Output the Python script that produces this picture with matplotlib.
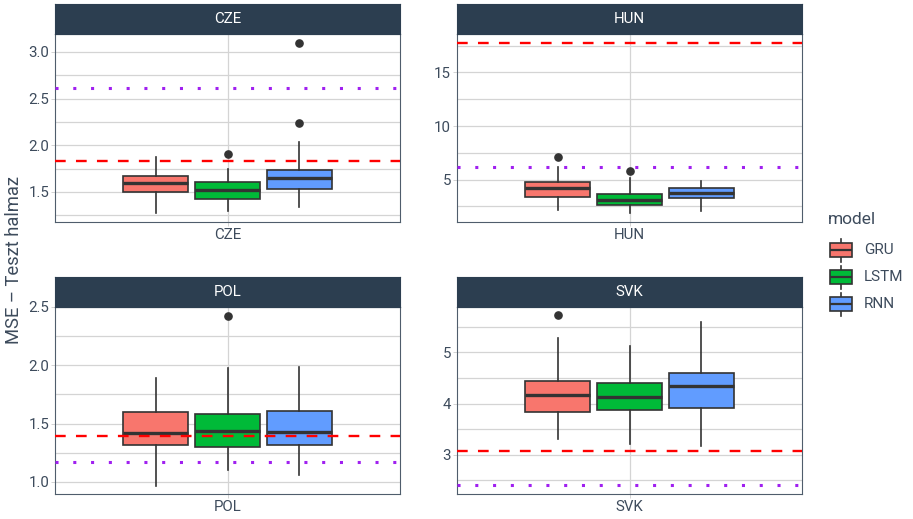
import matplotlib
matplotlib.use("Agg")
import matplotlib.pyplot as plt
from matplotlib.patches import Rectangle

plt.rcParams['font.family'] = ['Roboto', 'DejaVu Sans']
plt.rcParams['lines.scale_dashes'] = False

# ---- data -------------------------------------------------------------
countries = ["CZE", "HUN", "POL", "SVK"]
models = ["GRU", "LSTM", "RNN"]
model_colors = ["#F8766D", "#00BA38", "#619CFF"]

# box statistics per country, one entry per model: (whislo, q1, med, q3, whishi)
cze_stats = [(1.27, 1.50, 1.60, 1.675, 1.875),
             (1.30, 1.43, 1.52, 1.607, 1.75),
             (1.34, 1.53, 1.65, 1.74, 2.04)]
cze_fliers = [[], [1.91], [2.24, 3.10]]

hun_stats = [(2.17, 3.35, 4.22, 4.81, 6.20),
             (1.85, 2.64, 3.13, 3.66, 5.12),
             (2.10, 3.32, 3.76, 4.22, 4.84)]
hun_fliers = [[7.09], [5.81], []]

pol_stats = [(0.969, 1.313, 1.418, 1.603, 1.894),
             (1.103, 1.302, 1.436, 1.581, 1.979),
             (1.06, 1.313, 1.43, 1.609, 1.988)]
pol_fliers = [[], [2.426], []]

svk_stats = [(3.31, 3.83, 4.16, 4.45, 5.28),
             (3.21, 3.87, 4.13, 4.41, 5.12),
             (3.17, 3.92, 4.35, 4.60, 5.60)]
svk_fliers = [[5.72], [], []]

# reference levels: red dashed and purple dotted
red_level = [1.83, 17.78, 1.39, 3.07]
purple_level = [2.61, 6.15, 1.168, 2.40]

# y axis breaks
major_ticks = [[1.5, 2.0, 2.5, 3.0], [5, 10, 15], [1.0, 1.5, 2.0, 2.5], [3, 4, 5]]
major_labels = [["1.5", "2.0", "2.5", "3.0"], ["5", "10", "15"],
                ["1.0", "1.5", "2.0", "2.5"], ["3", "4", "5"]]
minor_ticks = [[1.25, 1.75, 2.25, 2.75], [2.5, 7.5, 12.5, 17.5],
               [1.25, 1.75, 2.25], [2.5, 3.5, 4.5, 5.5]]

all_stats = [cze_stats, hun_stats, pol_stats, svk_stats]
all_fliers = [cze_fliers, hun_fliers, pol_fliers, svk_fliers]

# ---- layout -----------------------------------------------------------
W, H = 913, 519
fig = plt.figure(figsize=(W / 100, H / 100), dpi=100)
fig.patch.set_facecolor("white")

BLUE = "#2c3e50"
GRID = "#d4d4d4"
TXT = "#3d4b5c"
EDGE = "#333333"

# panel rectangles in pixels: (left, top, right, bottom), strip height
panels = [(55, 34, 400, 222), (457, 34, 802, 222),
          (55, 307, 400, 494), (457, 307, 802, 494)]
strip_h = 30


def px_axes(l, t, r, b):
    return fig.add_axes([l / W, 1 - b / H, (r - l) / W, (b - t) / H])


positions = [0.75, 1.0, 1.25]

for i, c in enumerate(countries):
    l, t, r, b = panels[i]
    ax = px_axes(l, t, r, b)

    stats = []
    for j, m in enumerate(models):
        lo, q1, med, q3, hi = all_stats[i][j]
        stats.append(dict(whislo=lo, q1=q1, med=med, q3=q3, whishi=hi,
                          fliers=all_fliers[i][j], label=m))

    bp = ax.bxp(stats, positions=positions, widths=0.225, patch_artist=True,
                showcaps=False, manage_ticks=False,
                boxprops=dict(edgecolor=EDGE, linewidth=1.2),
                medianprops=dict(color=EDGE, linewidth=2.4, solid_capstyle="butt"),
                whiskerprops=dict(color=EDGE, linewidth=1.2),
                flierprops=dict(marker="o", markerfacecolor=EDGE,
                                markeredgecolor=EDGE, markersize=5.2))
    for patch, col in zip(bp["boxes"], model_colors):
        patch.set_facecolor(col)
        patch.set_zorder(3)
    for k in ("medians", "whiskers", "fliers"):
        for a in bp[k]:
            a.set_zorder(3.5)

    ax.axhline(red_level[i], color="#FF0000", linewidth=1.7,
               dashes=(7.7, 7.4), zorder=5)
    ax.axhline(purple_level[i], color="#A020F0", linewidth=2.2,
               dashes=(2.2, 10.6), dash_capstyle="butt", zorder=5)

    vals = [v for s in all_stats[i] for v in s] + \
           [v for f in all_fliers[i] for v in f] + [red_level[i], purple_level[i]]
    lo, hi = min(vals), max(vals)
    pad = 0.05 * (hi - lo)
    ax.set_ylim(lo - pad, hi + pad)
    ax.set_xlim(0.4, 1.6)

    ax.set_yticks(major_ticks[i])
    ax.set_yticklabels(major_labels[i])
    ax.set_yticks(minor_ticks[i], minor=True)
    ax.set_xticks([1.0])
    ax.set_xticklabels([c])

    ax.grid(True, which="major", axis="both", color=GRID, linewidth=0.9, zorder=0)
    ax.grid(True, which="minor", axis="y", color=GRID, linewidth=0.9, zorder=0)
    ax.set_axisbelow(True)

    ax.tick_params(axis="both", which="major", length=2.7, width=0.6,
                   color="#cccccc", labelcolor=TXT, labelsize=10.8, pad=1.5)
    ax.tick_params(axis="y", which="minor", length=0)
    for s in ax.spines.values():
        s.set_color("#4f5d6c")
        s.set_linewidth(0.8)

    # facet strip
    sax = px_axes(l, t - strip_h, r, t)
    sax.set_facecolor(BLUE)
    sax.set_xticks([])
    sax.set_yticks([])
    for s in sax.spines.values():
        s.set_color(BLUE)
    sax.text(0.5, 0.5, c, color="white", fontsize=10.8, ha="center",
             va="center", transform=sax.transAxes)

fig.text(14 / W, 1 - 260 / H, "MSE – Teszt halmaz", rotation=90,
         ha="center", va="center", fontsize=13.2, color=TXT)

# ---- legend -----------------------------------------------------------
lax = px_axes(815, 200, 913, 320)
lax.set_xlim(815, 913)
lax.set_ylim(320, 200)
lax.axis("off")
lax.text(828, 219, "model", fontsize=12.5, color=TXT, ha="left", va="center")
for j, (m, col) in enumerate(zip(models, model_colors)):
    yc = 250 + 27 * j
    lax.add_patch(Rectangle((830, yc - 7.2), 22, 14.4, facecolor=col,
                            edgecolor=EDGE, linewidth=1.2, zorder=3))
    lax.plot([830, 852], [yc, yc], color=EDGE, linewidth=1.6, zorder=4,
             solid_capstyle="butt")
    lax.plot([841, 841], [yc - 11.5, yc - 7.2], color=EDGE, linewidth=1.2)
    lax.plot([841, 841], [yc + 7.2, yc + 11.5], color=EDGE, linewidth=1.2)
    lax.text(864, yc, m, fontsize=11, color=TXT, ha="left", va="center")

fig.savefig("out.png", dpi=100, facecolor="white")
